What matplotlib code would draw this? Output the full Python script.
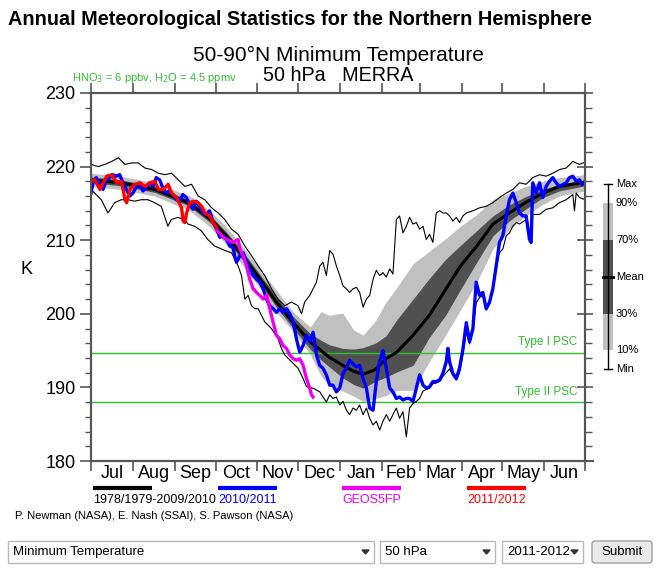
"""Annual minimum temperature statistics, 50-90N at 50 hPa (MERRA)."""

import matplotlib

matplotlib.use("Agg")
import numpy as np
from matplotlib import pyplot as plt
from matplotlib.patches import FancyBboxPatch, Polygon, Rectangle

plt.rcParams["font.family"] = ["Liberation Sans", "DejaVu Sans"]

W, H = 671, 584

# day of the season (0 = 1 Jul)
MONTHS = ["Jul", "Aug", "Sep", "Oct", "Nov", "Dec", "Jan", "Feb", "Mar", "Apr", "May", "Jun"]
MONTH_START = [0, 31, 62, 92, 123, 153, 184, 215, 243, 274, 304, 335, 365]

# climatology 1978/1979-2009/2010
BAND_DAY = [0, 22, 47, 72, 88, 100, 112, 125, 137, 149, 162, 170, 176, 186, 194,
            201, 210, 218, 226, 238, 250, 262, 273, 285, 297, 309, 321, 334, 346, 365]
MEAN = [218.2, 217.8, 216.9, 215.1, 212.9, 210.6, 207.9, 204.7, 201.6, 198.9, 196.2,
        195.0, 194.1, 193.0, 192.2, 191.8, 192.4, 193.9, 194.8, 197.1, 199.8, 203.3,
        206.5, 209.2, 212.2, 213.7, 215.1, 216.4, 217.3, 217.9]
P70 = [218.6, 218.2, 217.3, 215.5, 213.4, 211.1, 208.5, 205.3, 202.3, 199.7, 197.3,
       196.4, 195.8, 195.3, 195.2, 195.4, 196.0, 197.0, 199.2, 202.0, 204.8, 207.4,
       209.3, 211.3, 213.3, 214.8, 215.9, 216.9, 217.6, 218.2]
P30 = [217.8, 217.4, 216.5, 214.7, 212.4, 210.0, 207.3, 204.1, 200.9, 198.1, 195.2,
       193.7, 192.8, 191.3, 190.4, 189.9, 190.8, 191.4, 192.1, 193.0, 196.8, 199.8,
       203.3, 207.0, 210.6, 212.6, 214.2, 215.8, 216.7, 217.4]
P90 = [219.1, 218.7, 217.8, 216.1, 214.0, 211.8, 209.2, 206.0, 203.2, 200.3, 198.2,
       200.3, 199.8, 200.1, 197.8, 197.1, 199.0, 201.6, 203.6, 206.8, 208.5, 210.2,
       211.9, 213.5, 215.5, 216.4, 217.3, 218.0, 218.5, 218.9]
P10 = [217.3, 216.9, 216.0, 214.1, 211.8, 209.4, 206.6, 203.4, 200.2, 197.7, 194.5,
       191.5, 190.3, 189.5, 188.8, 188.1, 188.5, 188.9, 189.6, 189.6, 193.5, 197.1,
       200.5, 204.3, 208.8, 211.5, 213.3, 214.9, 216.0, 216.7]

MAX_DAY = [0, 5.4, 10.3, 15.3, 20.2, 25.1, 30, 34.9, 39.9, 44.8, 49.7, 54.6, 59.5, 64.5,
           69.4, 74.3, 79.2, 84.1, 89.1, 94, 98.9, 103.8, 108.7, 113.7, 118.6, 123.5,
           128.4, 133.3, 138.2, 143.2, 148.1, 153, 155.5, 157.9, 161.6, 166.6, 169,
           171.4, 173.9, 176.4, 178.8, 181.3, 183.8, 186.2, 188.7, 191.1, 193.6, 196.1,
           198.5, 201, 203.5, 205.9, 208.4, 210.8, 213.3, 215.7, 218.2, 220.7, 223.1,
           225.6, 228, 230.5, 233, 235.4, 237.9, 240.4, 242.8, 245.3, 247.7, 250.2,
           252.6, 255.1, 257.6, 260, 262.5, 264.9, 267.4, 269.9, 272.3, 274.8, 277.3,
           282.2, 287.1, 292, 296.9, 301.8, 306.8, 311.7, 316.6, 321.5, 326.4, 331.4,
           336.3, 341.2, 346.1, 351.1, 356, 360.9, 365]
MAX_T = [220.3, 220.0, 220.3, 220.7, 221.2, 220.3, 220.5, 220.5, 219.8, 219.6, 219.1,
         218.9, 219.1, 218.2, 217.3, 217.6, 216.0, 215.5, 214.4, 213.7, 212.8, 211.5,
         210.8, 209.2, 207.9, 206.5, 205.2, 203.4, 202.0, 201.1, 201.6, 201.1, 200.0,
         201.6, 202.5, 204.3, 206.5, 207.0, 205.2, 208.6, 208.1, 206.5, 205.2, 203.8,
         203.4, 202.9, 203.4, 203.6, 202.9, 200.9, 202.0, 202.5, 204.7, 205.9, 205.2,
         205.6, 205.0, 206.1, 205.4, 212.8, 213.3, 211.0, 211.9, 213.1, 212.2, 212.4,
         211.5, 211.9, 210.1, 210.8, 209.7, 213.7, 214.0, 213.7, 213.7, 213.3, 212.6,
         213.1, 212.4, 213.3, 213.7, 214.0, 214.4, 214.6, 215.1, 215.8, 216.4, 216.9,
         217.8, 217.6, 218.5, 218.9, 218.7, 219.1, 219.6, 219.8, 220.7, 220.3, 220.6]

MIN_DAY = [0, 2.7, 7.6, 12.5, 17.5, 22.4, 27.3, 32.2, 37.1, 42.1, 47, 51.9, 56.8, 59.3,
           64.2, 69.1, 71.6, 76.5, 81.4, 86.3, 91.3, 94, 98.9, 103.8, 106.3, 108.7,
           111.2, 113.7, 116.1, 118.6, 121, 123.5, 128.4, 133.3, 138.2, 140.7, 143.2,
           148.1, 153, 156.7, 159.2, 164.1, 169, 173.9, 176.4, 178.8, 181.3, 183.8,
           186.2, 188.7, 191.1, 193.6, 196.1, 198.5, 201, 203.5, 205.9, 208.4, 210.8,
           213.3, 215.7, 218.2, 220.7, 223.1, 225.6, 228, 230.5, 233, 235.4, 237.9,
           240.4, 242.8, 245.3, 247.7, 250.2, 252.6, 255.1, 257.6, 260, 262.5, 264.9,
           267.4, 269.9, 272.3, 274.8, 277.3, 279.7, 282.2, 284.6, 287.1, 289.5, 292,
           294.5, 296.9, 299.4, 301.8, 304.3, 306.8, 309.2, 311.7, 314.2, 316.6, 321.5,
           324, 325.2, 326.4, 331.4, 336.3, 341.2, 346.1, 351.1, 356, 357.2, 358.5,
           360.9, 365]
MIN_T = [216.9, 216.4, 215.5, 213.7, 215.1, 215.5, 215.5, 215.3, 215.5, 215.5, 215.1,
         214.6, 211.9, 212.8, 213.1, 212.8, 212.2, 211.9, 211.3, 210.1, 209.2, 209.0,
         208.6, 208.3, 207.4, 206.5, 205.2, 202.0, 202.5, 201.1, 200.7, 200.7, 198.9,
         198.0, 196.6, 195.3, 194.4, 193.5, 192.6, 191.2, 190.1, 189.9, 189.4, 188.0,
         189.0, 188.5, 188.7, 187.6, 188.1, 186.9, 186.3, 187.2, 186.9, 187.6, 186.3,
         187.2, 185.8, 184.9, 185.4, 184.2, 185.4, 186.3, 185.4, 186.3, 187.2, 185.8,
         186.7, 183.3, 187.2, 187.8, 188.1, 188.5, 189.5, 189.7, 189.9, 190.5, 190.6,
         190.8, 191.5, 192.0, 192.5, 191.6, 191.0, 192.0, 194.5, 197.5, 195.9, 197.8,
         201.5, 202.2, 202.5, 200.5, 201.3, 203.2, 206.2, 208.3, 208.8, 210.6, 211.0,
         211.9, 212.4, 212.2, 212.8, 210.0, 209.6, 213.5, 213.5, 214.2, 214.4, 215.1,
         215.5, 216.2, 214.0, 216.4, 215.8, 215.5]

# 2010/2011
Y2010_DAY = [0, 1.5, 3.9, 6.4, 8.9, 11.3, 13.8, 16.2, 18.7, 21.2, 23.6, 26.1, 28.6, 31,
             33.5, 35.9, 38.4, 40.8, 43.3, 45.8, 48.2, 50.7, 53.1, 55.6, 58.1, 60.5, 63,
             65.4, 67.9, 70.4, 72.8, 75.3, 77.7, 80.2, 82.7, 85.1, 87.6, 90.3, 92.8,
             95.2, 97.6, 100.1, 102.6, 105, 106.3, 107.5, 110, 112.4, 114.9, 117.3,
             119.8, 122.3, 124.7, 127.2, 129.7, 132.1, 134.5, 137, 139.5, 141.9, 144.4,
             146.9, 149.3, 151.8, 154.2, 156.7, 159.2, 161.6, 164.1, 166.6, 169, 171.4,
             173.9, 176.4, 178.8, 181.3, 183.8, 186.2, 188.7, 191.1, 193.6, 196.1, 198.5,
             201, 203.5, 205.9, 208.4, 210.8, 213.3, 215.7, 218.2, 220.7, 223.1, 225.6,
             228, 230.5, 233, 235.4, 237.9, 240.4, 242.8, 245.3, 247.7, 250.2, 252.6,
             255.1, 257.6, 260, 262.5, 263.7, 264.9, 267.4, 269.9, 272.3, 274.8, 277.3,
             279.7, 282.2, 284.6, 287.1, 289.5, 292, 294.5, 296.9, 299.4, 301.8, 304.3,
             306.8, 309.2, 311.7, 314.2, 316.6, 319.1, 321.5, 324, 325.2, 326.4, 328.9,
             331.4, 333.8, 336.3, 338.7, 341.2, 343.7, 346.1, 351.1, 353.5, 356, 358.5,
             360.9, 363]
Y2010_T = [216.4, 217.8, 218.5, 217.6, 216.9, 218.2, 218.5, 218.9, 218.7, 218.9, 217.8,
           216.9, 216.0, 216.4, 217.3, 217.6, 216.7, 217.1, 217.8, 217.3, 218.5, 218.2,
           217.1, 216.4, 216.7, 216.2, 215.5, 215.3, 216.2, 215.8, 214.9, 214.2, 215.3,
           214.6, 213.7, 213.5, 214.0, 212.4, 211.5, 210.4, 210.6, 210.1, 209.2, 209.0,
           207.7, 207.0, 207.9, 208.3, 207.0, 206.1, 205.2, 204.7, 204.3, 203.4, 202.0,
           201.1, 200.7, 200.2, 200.7, 200.2, 200.7, 200.0, 198.9, 196.6, 194.8, 195.7,
           197.1, 196.2, 197.5, 194.4, 193.0, 192.6, 191.7, 190.3, 190.3, 189.4, 189.9,
           191.9, 192.6, 193.7, 193.2, 192.8, 193.0, 191.2, 189.9, 187.2, 186.9, 190.8,
           193.5, 195.0, 192.6, 189.9, 189.4, 188.5, 188.7, 188.3, 188.5, 188.5, 188.1,
           189.9, 191.7, 190.3, 189.9, 190.1, 190.8, 190.8, 191.0, 191.9, 193.5, 195.3,
           193.5, 191.9, 191.2, 192.6, 195.2, 198.8, 196.2, 198.0, 204.3, 202.5, 202.9,
           200.7, 201.6, 203.4, 206.5, 209.7, 210.6, 213.3, 215.5, 216.4, 215.1, 213.7,
           213.3, 213.3, 210.1, 209.7, 217.8, 216.4, 217.8, 215.8, 217.3, 218.0, 218.5,
           217.8, 217.3, 217.8, 218.5, 218.7, 218.0, 218.2, 217.6]

# GEOS5FP
GEOS_DAY = [92.8, 97.6, 102.6, 105, 108.7, 110, 112.4, 114.9, 117.3, 119.8, 122.3,
            124.7, 127.2, 129.7, 132.1, 134.5, 137, 139.5, 141.9, 144.4, 146.9, 149.3,
            151.8, 154.2, 156.7, 159.2, 161.6, 162.9, 164.1]
GEOS_T = [211.4, 210.4, 209.9, 209.7, 210.1, 208.8, 207.9, 206.5, 204.7, 203.4, 202.9,
          202.5, 202.0, 202.5, 200.7, 198.9, 197.1, 196.6, 195.7, 195.3, 194.4, 193.9,
          193.7, 193.9, 193.0, 191.2, 189.9, 189.0, 188.7]

# 2011/2012
Y2011_DAY = [0, 3, 6.6, 9.1, 11.6, 15.3, 19, 22.6, 25.1, 26.3, 28.8, 32.5, 36.2, 39.9,
             43.5, 47.2, 49.7, 53.4, 57, 59.5, 63.2, 66.9, 68.1, 69.4, 70.6, 73.1, 75.5,
             79.2, 81.7, 84.1, 87.8, 90.3, 92.8]
Y2011_T = [218.0, 218.2, 216.9, 217.8, 218.7, 218.9, 217.8, 218.0, 215.5, 215.1, 216.9,
           217.6, 217.8, 217.3, 217.8, 218.0, 216.9, 216.9, 217.6, 216.4, 215.8, 214.4,
           212.6, 212.4, 213.7, 215.1, 215.3, 215.1, 214.6, 213.7, 213.3, 212.4, 211.7]

PSC_T = [194.7, 188.0]
PSC_LABELS = ["Type I PSC", "Type II PSC"]

LEGEND_LABELS = ["1978/1979-2009/2010", "2010/2011", "GEOS5FP", "2011/2012"]
LEGEND_COLORS = ["black", "#0000ff", "#ee00ee", "#ff0000"]

BOX_LABELS = ["Max", "90%", "70%", "Mean", "30%", "10%", "Min"]

LIGHT = "#c0c0c0"
DARK = "#505050"
GREEN = "#2fbf2f"
SPINE = "#555555"


def px(x, y):
    """Pixel position to figure fraction."""
    return x / W, 1 - y / H


fig = plt.figure(figsize=(W / 100, H / 100), dpi=100)
fig.patch.set_facecolor("white")
ax = fig.add_axes([91 / W, 1 - 461 / H, 494 / W, 368 / H])

ax.fill_between(BAND_DAY, P10, P90, color=LIGHT, lw=0, zorder=1)
ax.fill_between(BAND_DAY, P30, P70, color=DARK, lw=0, zorder=1.1)
for t in PSC_T:
    ax.axhline(t, color=GREEN, lw=1.0, zorder=1.5)
ax.plot(BAND_DAY, MEAN, color="black", lw=2.2, zorder=2)
ax.plot(MAX_DAY, MAX_T, color="black", lw=0.8, zorder=2)
ax.plot(MIN_DAY, MIN_T, color="black", lw=0.8, zorder=2)
ax.plot(Y2010_DAY, Y2010_T, color=LEGEND_COLORS[1], lw=2.4, zorder=3)
ax.plot(GEOS_DAY, GEOS_T, color=LEGEND_COLORS[2], lw=2.4, zorder=3.1)
ax.plot(Y2011_DAY, Y2011_T, color=LEGEND_COLORS[3], lw=2.4, zorder=3.2)

for t, lab in zip(PSC_T, PSC_LABELS):
    ax.text(0.985, t + 0.6, lab, color=GREEN, fontsize=8.5, ha="right", va="bottom",
            transform=ax.get_yaxis_transform())

ax.set_xlim(0, 365)
ax.set_ylim(180, 230)
ax.set_xticks(MONTH_START)
ax.set_xticklabels([])
ax.set_xticks([(a + b) / 2 for a, b in zip(MONTH_START[:-1], MONTH_START[1:])], minor=True)
ax.set_xticklabels(MONTHS, minor=True, fontsize=13)
ax.tick_params(axis="x", which="major", direction="out", length=7, width=1.2,
               color=SPINE, top=True, bottom=True)
ax.tick_params(axis="x", which="minor", length=0, pad=3)
ax.set_yticks(np.arange(180, 231, 10))
ax.set_yticks(np.arange(180, 231, 2), minor=True)
ax.tick_params(axis="y", which="major", direction="out", length=8, width=1.2,
               color=SPINE, labelsize=13, pad=3)
ax.tick_params(axis="y", which="minor", direction="out", length=4, width=1.0, color=SPINE)

ax2 = ax.twinx()
ax2.set_ylim(180, 230)
ax2.set_yticks(np.arange(180, 231, 10))
ax2.set_yticks(np.arange(180, 231, 2), minor=True)
ax2.set_yticklabels([])
ax2.tick_params(axis="y", which="major", direction="inout", length=12, width=1.2, color=SPINE)
ax2.tick_params(axis="y", which="minor", direction="out", length=5, width=1.0, color=SPINE)
for a in (ax, ax2):
    for s in a.spines.values():
        s.set_color(SPINE)
        s.set_linewidth(1.5)

# overlay in pixel coordinates for annotations around the plot
deco = fig.add_axes([0, 0, 1, 1])
deco.set_xlim(0, W)
deco.set_ylim(H, 0)
deco.axis("off")
deco.patch.set_visible(False)
deco.plot([585, 593], [461, 461], color=SPINE, lw=1.5)

renderer = fig.canvas.get_renderer()


def fit(txt, width):
    w = txt.get_window_extent(renderer).width
    txt.set_fontsize(txt.get_fontsize() * width / w)


t = fig.text(*px(8, 25), "Annual Meteorological Statistics for the Northern Hemisphere",
             fontsize=14, fontweight="bold", ha="left", va="baseline",
             family=["Liberation Sans Narrow", "Liberation Sans"])
fit(t, 586)
t = fig.text(*px(338, 61), "50-90\u00b0N Minimum Temperature", fontsize=14,
             ha="center", va="baseline")
fit(t, 292)
t = fig.text(*px(338, 81), "50 hPa   MERRA", fontsize=14, ha="center", va="baseline")
fit(t, 151)
fig.text(*px(72, 81), r"HNO$_3$ = 6 ppbv, H$_2$O = 4.5 ppmv", color=GREEN,
         fontsize=8, ha="left", va="baseline")
fig.text(*px(27, 270), "K", fontsize=13, ha="center", va="center")

# line legend below the plot
for x0, lab, col in zip([93, 218, 342, 467], LEGEND_LABELS, LEGEND_COLORS):
    deco.plot([x0, x0 + 59], [488, 488], color=col, lw=3, solid_capstyle="butt")
    deco.text(x0, 500, lab, color=col, fontsize=9, ha="left", va="center")
deco.text(15, 516, "P. Newman (NASA), E. Nash (SSAI), S. Pawson (NASA)",
          fontsize=8, ha="left", va="center")

# percentile key on the right
box_y = [184, 203, 240, 277, 314, 350, 369]
deco.plot([608, 608], [box_y[0], box_y[-1]], color="black", lw=1)
for yy in (box_y[0], box_y[-1]):
    deco.plot([604, 612], [yy, yy], color="black", lw=1)
deco.add_patch(Rectangle((603, box_y[1]), 10, box_y[5] - box_y[1], color=LIGHT, lw=0))
deco.add_patch(Rectangle((603, box_y[2]), 10, box_y[4] - box_y[2], color=DARK, lw=0))
deco.plot([603, 613], [box_y[3], box_y[3]], color="black", lw=2)
for yy, lab in zip(box_y, BOX_LABELS):
    deco.text(616, yy, lab, fontsize=8, ha="left", va="center")

# form controls
for x0, x1, lab in [(8, 374, "Minimum Temperature"), (380, 495, "50 hPa"),
                    (502, 583, "2011-2012")]:
    deco.add_patch(Rectangle((x0, 541), x1 - x0, 22, facecolor="white",
                             edgecolor="#b8b8b8", lw=1))
    deco.text(x0 + 5, 552, lab, fontsize=9.5, ha="left", va="center")
    deco.add_patch(Polygon([[x1 - 12, 550], [x1 - 5, 550], [x1 - 8.5, 554]],
                           closed=True, color="#333333"))
deco.add_patch(FancyBboxPatch((592, 541), 60, 22, boxstyle="round,pad=0,rounding_size=3",
                              facecolor="#e9e9e9", edgecolor="#a0a0a0", lw=1))
deco.text(622, 552, "Submit", fontsize=9.5, ha="center", va="center")

fig.savefig("out.png", dpi=100)
